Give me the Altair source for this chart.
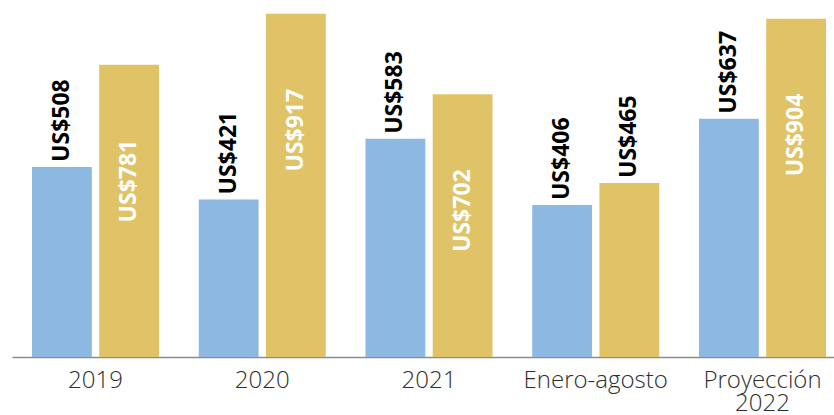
import altair as alt
import pandas as pd

categories = ["2019", "2020", "2021", "Enero-agosto", "Proyección 2022"]
serie_azul = [508, 421, 583, 406, 637]
serie_dorada = [781, 917, 702, 465, 904]
series = ["Serie azul", "Serie dorada"]

rows = []
for i, c in enumerate(categories):
    rows.append({"categoria": c, "serie": series[0], "valor": serie_azul[i]})
    rows.append({"categoria": c, "serie": series[1], "valor": serie_dorada[i]})
df = pd.DataFrame(rows)

x = alt.X(
    "categoria:N",
    sort=categories,
    scale=alt.Scale(paddingInner=0.2384, paddingOuter=0.084, align=0.714),
    axis=alt.Axis(
        title=None, labelAngle=0, ticks=False,
        domainColor="#8c8c8c", domainWidth=1.5,
        labelFont="Open Sans", labelFontSize=24, labelFontWeight=300,
        labelColor="#2e2e2e",
        labelPadding=11, labelExpr="split(datum.value, ' ')",
        labelLineHeight=23, labelOverlap=False,
    ),
)
xo = alt.XOffset("serie:N", sort=series, scale=alt.Scale(paddingInner=0.11, paddingOuter=0))
y = alt.Y("valor:Q", scale=alt.Scale(domain=[0, 954], nice=False), axis=None)
color = alt.Color("serie:N", scale=alt.Scale(domain=series, range=["#8db8e2", "#dfc366"]), legend=None)

base = alt.Chart(df).encode(x=x, xOffset=xo, y=y)
bars = base.mark_bar().encode(color=color)

labels = base.transform_calculate(
    etiqueta="'US$' + datum.valor",
    dentro=f"datum.serie == '{series[1]}' && datum.valor > 500",
)
outside = labels.transform_filter("!datum.dentro").mark_text(
    angle=270, align="left", baseline="middle", dx=5,
    font="Open Sans", fontWeight="bold", fontSize=23, color="black",
).encode(text="etiqueta:N")
inside = labels.transform_filter("datum.dentro").mark_text(
    angle=270, align="right", baseline="middle", dx=-75,
    font="Open Sans", fontWeight="bold", fontSize=23, color="white",
).encode(text="etiqueta:N")

chart = alt.layer(bars, outside, inside).properties(
    width=822, height=357,
    padding={"left": 12, "top": 0, "right": 0, "bottom": 58},
    autosize=alt.AutoSizeParams(type="none"),
    background="white",
).configure_view(stroke=None)

chart.save("out.html", embed_options={"renderer": "svg", "actions": False})
